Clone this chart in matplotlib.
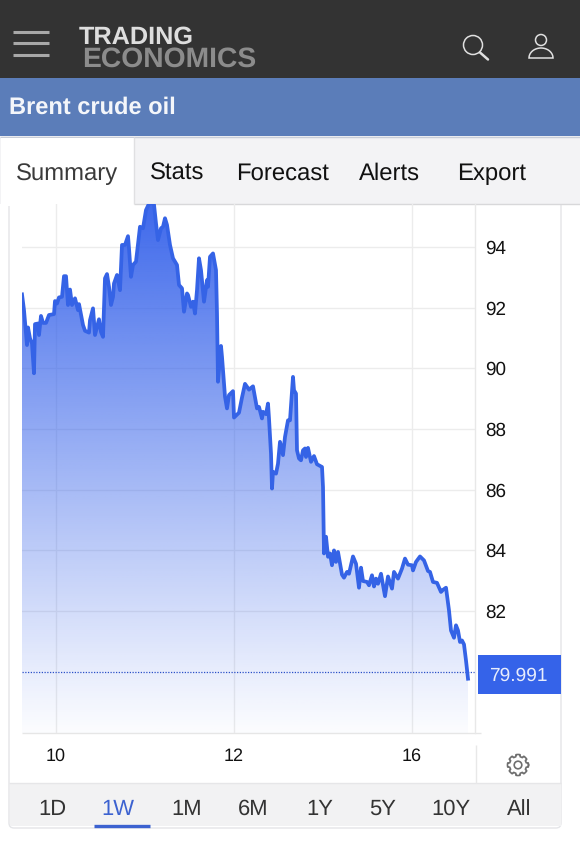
import numpy as np
import matplotlib
matplotlib.use('Agg')
import matplotlib.pyplot as plt
from matplotlib.patches import Rectangle, Circle, Polygon, FancyBboxPatch

plt.rcParams['font.family'] = ['Liberation Sans', 'DejaVu Sans']
plt.rcParams['text.hinting'] = 'no_hinting'

# bar number, price
bars = [0, 2, 4, 5, 6, 8, 10, 12, 13, 16, 17, 19, 21, 24, 27, 32, 33, 35, 37, 40, 42, 44, 46, 48, 50, 53, 56, 57, 61, 63,
	67, 68, 71, 73, 77, 79, 81, 83, 85, 87, 89, 91, 92, 95, 98, 100, 103, 106, 107, 109, 111, 114, 118, 121, 124, 128, 132, 134, 136, 139,
	141, 143, 145, 148, 151, 155, 157, 160, 162, 165, 166, 169, 171, 173, 175, 177, 179, 182, 185, 186, 188, 191, 194, 195, 196, 199, 200, 203, 205, 207,
	211, 212, 217, 220, 223, 227, 231, 235, 237, 240, 241, 244, 246, 247, 249, 250, 251, 254, 256, 258, 261, 263, 266, 268, 271, 272, 274, 275, 277, 279,
	281, 283, 284, 286, 289, 292, 295, 300, 301, 302, 304, 306, 308, 310, 312, 314, 316, 320, 322, 325, 327, 331, 334, 337, 339, 341, 345, 347, 350, 352,
	354, 356, 359, 363, 366, 370, 372, 376, 380, 383, 386, 390, 391, 394, 398, 402, 406, 408, 411, 415, 419, 421, 424, 427, 429, 432, 434, 436, 438, 440,
	442, 444, 446]
prices = [92.44, 91.92, 91.15, 90.77, 91.35, 90.99, 90.82, 89.84, 91.46, 91.48, 91.10, 91.73, 91.50, 91.50, 91.76, 91.79, 92.22, 92.14, 92.34, 92.36, 93.04, 93.04, 92.09, 92.60, 92.09, 92.31, 91.92, 92.12, 91.43, 91.24,
	91.18, 91.59, 91.98, 91.10, 91.62, 91.20, 91.04, 92.97, 93.11, 92.69, 92.09, 92.36, 92.80, 93.08, 92.58, 94.07, 94.07, 94.36, 93.96, 93.02, 93.41, 93.52, 94.67, 94.62, 95.22, 95.50, 95.40, 94.78, 94.23, 94.62,
	94.67, 94.95, 94.73, 94.07, 93.63, 93.41, 92.75, 92.64, 91.87, 92.47, 92.42, 92.03, 92.20, 91.81, 92.58, 93.63, 93.24, 92.20, 92.91, 92.69, 93.68, 93.79, 93.24, 91.81, 89.56, 90.74, 90.38, 89.07, 88.68, 89.12,
	89.25, 88.38, 88.54, 89.04, 89.49, 89.30, 89.41, 88.68, 88.73, 88.35, 88.57, 88.49, 88.84, 88.35, 87.19, 86.04, 86.59, 86.53, 86.86, 87.58, 87.14, 87.74, 88.29, 88.29, 89.72, 89.28, 89.17, 87.30, 87.03, 86.97,
	87.30, 87.36, 87.08, 87.38, 86.92, 87.11, 86.84, 86.75, 86.09, 83.90, 84.45, 83.79, 83.90, 83.51, 84.00, 83.62, 83.95, 83.20, 83.10, 83.29, 83.23, 83.80, 83.56, 82.77, 83.43, 82.99, 82.96, 82.85, 83.18, 82.81,
	83.07, 82.90, 83.23, 82.49, 83.14, 82.74, 83.29, 83.07, 83.40, 83.73, 83.53, 83.51, 83.34, 83.62, 83.80, 83.67, 83.32, 83.29, 82.96, 82.93, 82.63, 82.70, 82.77, 82.02, 81.36, 81.12, 81.53, 81.36, 80.98, 81.03,
	80.90, 80.37, 79.77]
last_price = 79.991
title = 'Brent crude oil'
y_ticks = [82, 84, 86, 88, 90, 92, 94]
x_ticks = [34, 212, 390]
x_labels = ['10', '12', '16']
tabs = ['Summary', 'Stats', 'Forecast', 'Alerts', 'Export']
tab_x = [67, 177, 282, 389, 492]
ranges = ['1D', '1W', '1M', '6M', '1Y', '5Y', '10Y', 'All']
range_x = [52, 118, 187, 253, 320, 383, 451, 519]

W, H = 580, 841
fig = plt.figure(figsize=(W / 100, H / 100), dpi=100, facecolor='white')

# page furniture, drawn in pixel coordinates
ui = fig.add_axes([0, 0, 1, 1])
ui.set_xlim(0, W)
ui.set_ylim(H, 0)
ui.axis('off')

def box(x, y, w, h, color, z=1):
	ui.add_patch(Rectangle((x, y), w, h, facecolor=color, edgecolor='none', zorder=z))

def hline(x0, x1, y, color, lw=1.0, z=2):
	ui.plot([x0, x1], [y, y], color=color, lw=lw, zorder=z, solid_capstyle='butt')

def vline(x, y0, y1, color, lw=1.0, z=2):
	ui.plot([x, x], [y0, y1], color=color, lw=lw, zorder=z, solid_capstyle='butt')

# card
ui.add_patch(FancyBboxPatch((9, 190), 552, 638, boxstyle='round,pad=0,rounding_size=5',
	facecolor='white', edgecolor='#e4e5e8', lw=1.0, zorder=1))
box(9.5, 783, 551, 43, '#f2f2f3', 2)
hline(9, 561, 783, '#e6e6e8', 1.0, 3)
vline(475.5, 745, 783, '#e8e8e8', 1.0, 3)
hline(22, 481, 733, '#e6e6e6', 1.0, 3)

# header
box(0, 0, W, 78, '#333333', 5)
box(0, 78, W, 58, '#5b7db9', 5)
box(0, 136, W, 68, '#f3f3f5', 5)
hline(0, W, 136.5, '#c9ced8', 1.0, 6)
hline(134, W, 203.5, '#d8d8da', 1.0, 6)
box(1, 138, 133, 68, 'white', 6)
vline(134, 137, 204, '#e0e0e2', 1.0, 7)

for y in [32, 43, 55]:
	hline(13, 49, y, '#a8a8a8', 2.2, 7)
ui.text(79, 44, 'TRADING', fontsize=18.2, fontweight='bold', color='#dedede', va='baseline', ha='left', zorder=8)
ui.text(82, 67, 'ECONOMICS', fontsize=20.3, fontweight='bold', color='#8c8c8c', va='baseline', ha='left', zorder=7)

ui.add_patch(Circle((473, 45), 9.5, facecolor='none', edgecolor='#e0e0e0', lw=1.1, zorder=7))
ui.plot([480, 488], [52.5, 59.5], color='#e0e0e0', lw=1.8, zorder=7, solid_capstyle='round')
ui.add_patch(Circle((541, 40), 5.5, facecolor='none', edgecolor='#e0e0e0', lw=1.1, zorder=7))
t = np.linspace(np.pi, 0, 30)
body = np.column_stack([541 + 12 * np.cos(t), 58 - 10 * np.sin(t)])
ui.add_patch(Polygon(body, closed=True, facecolor='none', edgecolor='#e0e0e0', lw=1.1, zorder=7))

ui.text(9, 108, title, fontsize=17, fontweight='bold', color='#f4f6fa', va='center', ha='left', zorder=7)
for name, x in zip(tabs, tab_x):
	ui.text(x, 180, name, fontsize=17.2, color='#3a3a3a' if name == 'Summary' else '#111111',
		va='baseline', ha='center', zorder=8)

# range selector
for name, x in zip(ranges, range_x):
	ui.text(x, 809, name, fontsize=15.8, color='#3c62d0' if name == '1W' else '#333333',
		va='center', ha='center', zorder=4)
hline(94, 150, 826, '#3c62d0', 2.4, 4)

# settings gear
a = np.linspace(0, 2 * np.pi, 97)
r = 10.5 - 2.0 * (np.cos(8 * a) < -0.1)
ui.plot(518 + r * np.cos(a), 765 + r * np.sin(a), color='#6e6e6e', lw=1.2, zorder=4)
ui.add_patch(Circle((518, 765), 3.8, facecolor='none', edgecolor='#6e6e6e', lw=1.2, zorder=4))

# price box
box(478, 655, 83, 39, '#3563e9', 4)
ui.text(518.5, 675.5, '%.3f' % last_price, fontsize=13.8, color='#e8edfc', va='center', ha='center', zorder=5)

# chart
ax = fig.add_axes([22 / W, (H - 733) / H, 453 / W, 529 / H], facecolor='none')
ax.set_xlim(0, 453)
ax.set_ylim(77.98, 95.42)
for side in ['top', 'left', 'bottom']:
	ax.spines[side].set_visible(False)
ax.spines['right'].set_color('#e8e8e8')
ax.spines['right'].set_linewidth(1.0)

ax.set_axisbelow(True)
ax.grid(True, color='#ececec', lw=1.0)
ax.yaxis.tick_right()
ax.set_yticks(y_ticks)
ax.set_xticks(x_ticks)
ax.set_xticklabels(x_labels)
ax.tick_params(axis='y', length=0, pad=7, labelsize=13.6, labelcolor='#111111')
ax.tick_params(axis='x', length=0, pad=11, labelsize=13, labelcolor='#111111')

# fill fades out towards the bottom, clipped to the area under the line
area = ax.fill_between(bars, prices, 77.98, facecolor='none', edgecolor='none')
grad = np.ones((256, 1, 4))
grad[:, 0, 0] = 0x33 / 255
grad[:, 0, 1] = 0x60 / 255
grad[:, 0, 2] = 0xea / 255
grad[:, 0, 3] = np.linspace(0.95, 0.02, 256) ** 1.05
im = ax.imshow(grad, extent=[0, 453, 77.98, 95.42], origin='upper', aspect='auto', zorder=1.5)
im.set_clip_path(area.get_paths()[0], transform=ax.transData)
ax.set_xlim(0, 453)
ax.set_ylim(77.98, 95.42)

ax.plot(bars, prices, color='#3563e6', lw=2.7, zorder=3, solid_joinstyle='round')
ax.axhline(last_price, color='#2b50c8', lw=0.9, ls=(0, (1, 1.2)), zorder=2.5)

fig.savefig('out.png', dpi=100)
